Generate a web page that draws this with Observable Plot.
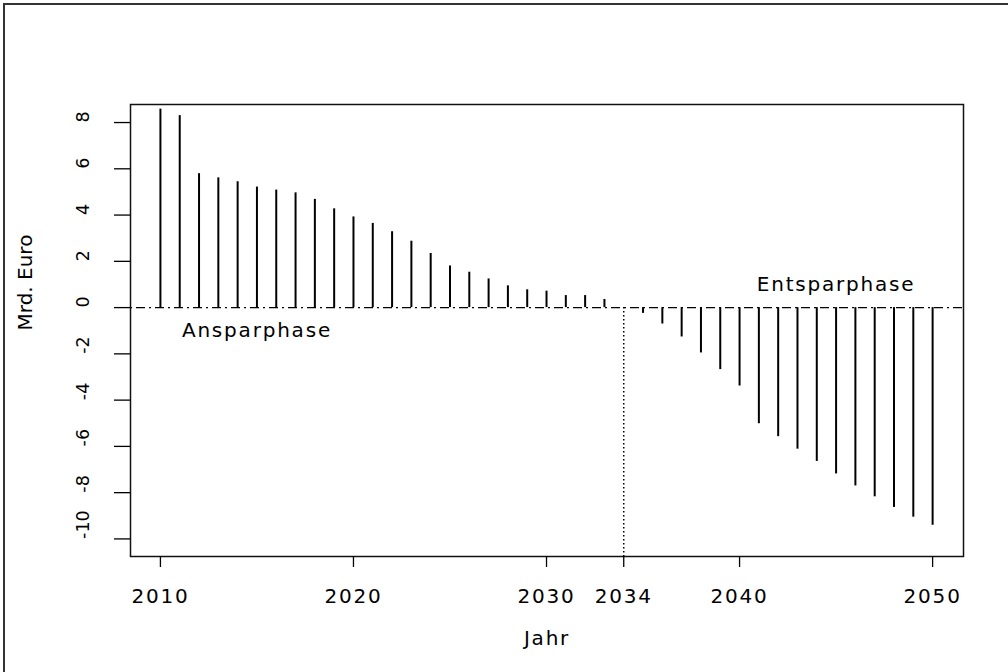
<!DOCTYPE html>
<html><head><meta charset="utf-8">
<script src="https://cdn.jsdelivr.net/npm/d3@7"></script>
<script src="https://cdn.jsdelivr.net/npm/@observablehq/plot@0.6"></script>
<style>
html,body{margin:0;padding:0;background:#fff;}
#wrap{position:relative;width:1008px;height:672px;overflow:hidden;}
#border{position:absolute;left:3px;top:3px;right:-10px;bottom:-10px;border-top:2px solid #333;border-left:2px solid #333;pointer-events:none;}
</style></head><body><div id="wrap"><div id="chart"></div><div id="border"></div></div>
<script>
const years = [2010,2011,2012,2013,2014,2015,2016,2017,2018,2019,2020,2021,2022,2023,2024,2025,2026,2027,2028,2029,2030,2031,2032,2033,2034,2035,2036,2037,2038,2039,2040,2041,2042,2043,2044,2045,2046,2047,2048,2049,2050];
const values = [8.58,8.30,5.79,5.61,5.44,5.21,5.08,4.96,4.68,4.27,3.92,3.64,3.28,2.87,2.34,1.80,1.53,1.24,0.94,0.77,0.71,0.52,0.52,0.35,0.0,-0.25,-0.71,-1.27,-1.96,-2.68,-3.39,-5.02,-5.58,-6.12,-6.65,-7.19,-7.71,-8.18,-8.64,-9.06,-9.41];
const xTicks = [2010,2020,2030,2034,2040,2050];
const yTicks = [8,6,4,2,0,-2,-4,-6,-8,-10];
const phaseLabels = ["Ansparphase","Entsparphase"];
const phaseX = [2015,2045];
const phaseY = [-1,1];
const markerYear = 2034;
const xLabel = "Jahr";
const yLabel = "Mrd. Euro";

const data = years.map((y,i)=>({year:y, value:values[i]}));
const phases = phaseLabels.map((t,i)=>({x:phaseX[i], y:phaseY[i], t}));
const xDomain = [2008.45, 2051.6];
const yDomain = [-10.76, 8.78];

const chart = Plot.plot({
  width:1008, height:672,
  marginLeft:130, marginRight:45, marginTop:104, marginBottom:116,
  x:{domain:xDomain, label:null},
  y:{domain:yDomain, label:null},
  style:{fontFamily:"'DejaVu Sans', sans-serif", fontSize:"20px", color:"#000", background:"#fff"},
  marks:[
    Plot.ruleY([0], {stroke:"#000", strokeWidth:1.3, strokeDasharray:"2,4,9,4"}),
    Plot.ruleX([markerYear], {y1:0, y2:yDomain[0], stroke:"#000", strokeWidth:1.5, strokeDasharray:"1.5,2.5"}),
    Plot.ruleX(data, {x:"year", y1:0, y2:"value", stroke:"#000", strokeWidth:2}),
    Plot.frame({stroke:"#111", strokeWidth:1.5}),
    Plot.axisX(xTicks, {tickSize:11, tickPadding:21, tickFormat:d=>String(d), label:null, fontSize:20, strokeWidth:1.3}),
    Plot.axisY(yTicks, {tickSize:16, tickFormat:()=>"", label:null, strokeWidth:1.3}),
    Plot.text(yTicks, {y:d=>d, frameAnchor:"left", dx:-47, rotate:-90, text:d=>String(d), fontSize:17.5, fill:"#000"}),
    Plot.text([yLabel], {frameAnchor:"left", dx:-105, rotate:-90, text:d=>d, fontSize:20, fill:"#000"}),
    Plot.text([xLabel], {frameAnchor:"bottom", dy:88, text:d=>d, fontSize:20, fill:"#000"}),
    Plot.text(phases, {x:"x", y:"y", text:"t", fontSize:20, fill:"#000"})
  ]
});
document.getElementById("chart").appendChild(chart);
d3.select(chart).selectAll("text").each(function(){
  const t = (this.getAttribute("transform")||"") + (this.parentNode.getAttribute("transform")||"");
  this.style.letterSpacing = t.includes("rotate") ? "0px" : "1.8px";
});
</script>
</body></html>
